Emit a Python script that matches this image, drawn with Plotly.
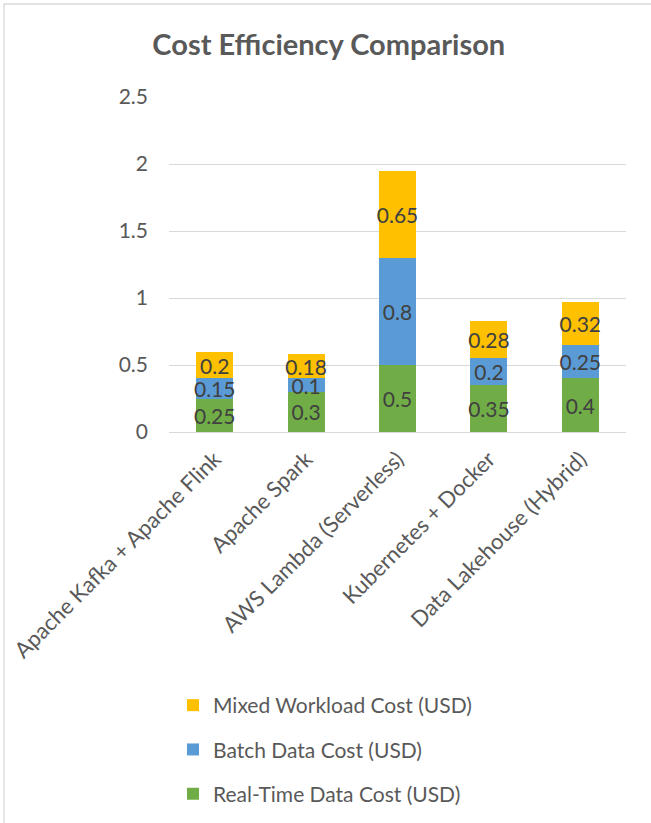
import plotly.graph_objects as go

categories = ["Apache Kafka + Apache Flink", "Apache Spark", "AWS Lambda (Serverless)",
              "Kubernetes + Docker", "Data Lakehouse (Hybrid)"]
real_time = [0.25, 0.3, 0.5, 0.35, 0.4]
batch = [0.15, 0.1, 0.8, 0.2, 0.25]
mixed = [0.2, 0.18, 0.65, 0.28, 0.32]
series_names = ["Real-Time Data Cost (USD)", "Batch Data Cost (USD)", "Mixed Workload Cost (USD)"]
series_colors = ["#70AD47", "#5B9BD5", "#FFC000"]
legend_ranks = [3, 2, 1]
y_ticks = [0, 0.5, 1, 1.5, 2, 2.5]

W, H = 651, 823
L, R, T, B = 169, 25, 97, 391
FONT = "Lato"
GREY = "#595959"
FS = 21

def px_x(x):
    return (x - L) / (W - L - R)

def px_y(y):
    return (H - B - y) / (H - T - B)

fig = go.Figure()
for name, vals, col, rk in zip(series_names, [real_time, batch, mixed], series_colors, legend_ranks):
    fig.add_trace(go.Bar(
        x=categories, y=vals, name=name, marker=dict(color=col, line=dict(width=0)),
        text=[str(v) for v in vals], textposition="inside", insidetextanchor="middle",
        constraintext="none", textangle=0,
        textfont=dict(family=FONT, size=FS, color="#404040"),
        legendgroup=name, legendrank=rk,
    ))

fig.update_layout(
    width=W, height=H, margin=dict(l=L, r=R, t=T, b=B, autoexpand=False),
    barmode="stack", bargap=0.595,
    paper_bgcolor="white", plot_bgcolor="white",
    title=dict(text="<b>Cost Efficiency Comparison</b>", x=0.505, xref="container", xanchor="center",
               y=1 - 45 / H, yanchor="middle", yref="container",
               font=dict(family=FONT, size=29, color=GREY)),
    font=dict(family=FONT, size=FS, color=GREY),
    showlegend=True,
    legend=dict(x=px_x(173), xanchor="left", y=px_y(685), yanchor="top",
                traceorder="grouped", tracegroupgap=14,
                font=dict(family=FONT, size=FS, color=GREY), itemwidth=30,
                bgcolor="rgba(0,0,0,0)"),
    xaxis=dict(tickangle=-45, showgrid=False, showline=False, ticks="",
               ticklabelstandoff=9,
               tickfont=dict(family=FONT, size=22, color=GREY)),
    yaxis=dict(range=[0, 2.5], tickvals=y_ticks, ticktext=[str(t) for t in y_ticks],
               showgrid=True, gridcolor="#D9D9D9", gridwidth=1.3, zeroline=True,
               zerolinecolor="#D9D9D9", zerolinewidth=1.3,
               showline=False, ticks="", ticklabelstandoff=20,
               tickfont=dict(family=FONT, size=FS, color=GREY)),
    shapes=[dict(type="rect", xref="paper", yref="paper",
                 x0=px_x(4), x1=px_x(700), y0=px_y(900), y1=px_y(4),
                 line=dict(color="#D9D9D9", width=1.3), fillcolor="rgba(0,0,0,0)", layer="below")],
)

fig.write_html("out.html")
